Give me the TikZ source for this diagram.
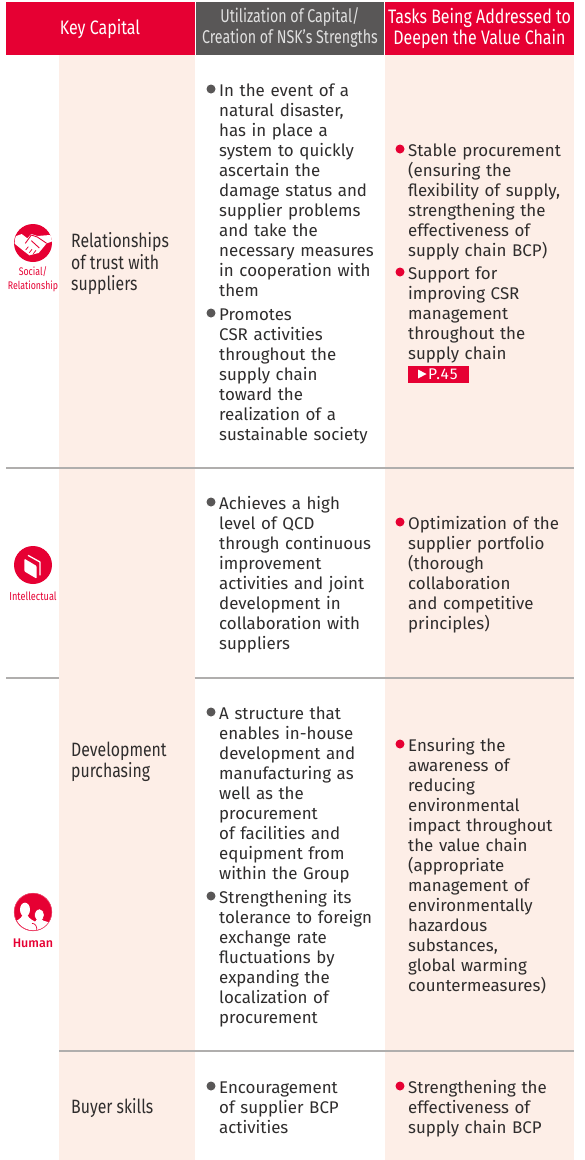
\documentclass[tikz,border=0pt]{standalone}
\usepackage{fontspec}
\setmainfont{Fira Sans}[Scale=1]
\newfontfamily\headfont{Fira Sans}[FakeStretch=0.82]
\newfontfamily\graheadfont{Fira Sans}[FakeStretch=0.77]
\newfontfamily\smallfont{Fira Sans}[FakeStretch=0.8]
\newfontfamily\tagfont{Fira Sans}[LetterSpace=7]
\newfontfamily\medfont{Fira Sans Medium}
\definecolor{nskred}{HTML}{E60033}
\definecolor{nskgray}{HTML}{595757}
\definecolor{peach}{HTML}{FDEEE7}
\definecolor{rulegray}{HTML}{B0AEAD}
\definecolor{ink}{HTML}{2F2D2D}
\tikzset{
  x=1pt,y=-1pt,
  headbox/.style={anchor=center,inner sep=0pt,text=white,align=center,font=\headfont\fontsize{19.5}{21}\selectfont},
  grayhead/.style={anchor=center,inner sep=0pt,text=white!88!black,align=center,font=\graheadfont\fontsize{18.5}{21}\selectfont},
  body/.style={anchor=north west,inner sep=0pt,text=ink,align=left,font=\fontsize{16.9}{20}\selectfont,text width=170pt},
  capital/.style={anchor=west,inner sep=0pt,text=ink,align=left,font=\headfont\fontsize{19.3}{21.5}\selectfont},
  iconlabel/.style={anchor=center,inner sep=0pt,text=nskred,align=center,font=\smallfont\fontsize{11.5}{14}\selectfont},
  bulletgray/.style={circle,fill=nskgray,inner sep=0pt,minimum size=9pt},
  bulletred/.style={circle,fill=nskred,inner sep=0pt,minimum size=9pt},
}
\begin{document}
\begin{tikzpicture}
\useasboundingbox (0,0) rectangle (585,1160);
\fill[white] (0,0) rectangle (585,1160);
% backgrounds
\fill[peach] (59,55) rectangle (194.5,1160);
\fill[peach] (385,55) rectangle (574,1160);
% header
\fill[nskred] (6,2) rectangle (194.5,54.5);
\fill[nskgray] (196,2) rectangle (383.5,54.5);
\fill[nskred] (385,2) rectangle (574,54.5);
\node[headbox] (h1) at (100,29) {Key Capital};
\node[grayhead] (h2) at (290,28) {Utilization of Capital/\\Creation of NSK’s Strengths};
\node[headbox] (h3) at (479.5,28) {Tasks Being Addressed to\\Deepen the Value Chain};
% rules
\draw[rulegray,line width=1.2pt] (6,468) -- (574,468);
\draw[rulegray,line width=1.2pt] (6,678) -- (59,678);
\draw[rulegray,line width=1.2pt] (194.5,678) -- (574,678);
\draw[rulegray,line width=1.2pt] (59,1051) -- (574,1051);
% col 1
\node[capital] (c1) at (71,264) {Relationships\\of trust with\\suppliers};
\node[capital] (c2) at (71,762) {Development\\purchasing};
\node[capital] (c3) at (71,1108.5) {Buyer skills};
% handshake icon (drawn in a 3x crop frame)
\fill[nskred] (33,243) circle (19);
\begin{scope}[shift={(10,220)},x=0.3333pt,y=-0.3333pt]
\clip (70,68) circle (56);
\fill[white] (8,52) -- (35,42) -- (52,55) -- (64,42) -- (82,48) -- (132,44) -- (133,62) -- (110,70) -- (86,99) -- (70,103) -- (58,106) -- (40,92) -- (10,68) -- cycle;
\draw[nskred,line width=0.9pt,line join=round] (46,70) -- (64,45) -- (82,51) -- (110,70);
\draw[nskred,line width=0.9pt,line join=round] (64,62) -- (88,84);
\draw[nskred,line width=0.7pt] (58,98) -- (66,88) (70,101) -- (78,91) (47,90) -- (55,80);
\end{scope}
\node[iconlabel,font=\smallfont\fontsize{11}{14}\selectfont] (l1) at (33,279) {Social/\\Relationship};
% book icon
\fill[nskred] (33,565) circle (19);
\begin{scope}[shift={(10,542)},x=0.3333pt,y=-0.3333pt]
\fill[white,rounded corners=1pt] (43,50) -- (80,72) -- (80,110) -- (43,88) -- cycle;
\draw[white,line width=1.3pt,line join=round] (54,40) -- (90,60) -- (90,100);
\end{scope}
\node[iconlabel] (l2) at (33,596) {Intellectual};
% human icon
\fill[nskred] (33,912) circle (19);
\begin{scope}[shift={(10,889)},x=0.3333pt,y=-0.3333pt]
\clip (70,68) circle (56);
\fill[white] (45,62) ellipse (15 and 21);
\fill[white] (8,126) -- (10,102) .. controls (18,94) and (32,92) .. (38,78) -- (52,78) .. controls (58,92) and (72,94) .. (80,102) -- (82,126) -- cycle;
\fill[white,draw=nskred,line width=0.6pt] (88,78) ellipse (14 and 18);
\fill[white] (74,126) -- (66,104) .. controls (72,98) and (80,97) .. (82,90) -- (94,90) .. controls (98,98) and (118,98) .. (130,104) -- (130,126) -- cycle;
\fill[white] (88,78) ellipse (13 and 17);
\draw[nskred,line width=0.7pt] (66,103) .. controls (76,104) and (82,110) .. (80,128);
\end{scope}
\draw[nskred!70,line width=0.5pt] (33,912) circle (18.8);
\node[iconlabel,font=\medfont\fontsize{12.5}{14}\selectfont] (l3) at (33,943) {Human};
% col 2
\node[bulletgray] (b1) at (211,89) {};
\node[body] (t1) at (219,84) {In the event of a\\natural disaster,\\has in place a\\system to quickly\\ascertain the\\damage status and\\supplier problems\\and take the\\necessary measures\\in cooperation with\\them};
\node[bulletgray] (b2) at (211,313) {};
\node[body] (t2) at (219,309) {Promotes\\CSR activities\\throughout the\\supply chain\\toward the\\realization of a\\sustainable society};
\node[bulletgray] (b3) at (211,502) {};
\node[body] (t3) at (219,496) {Achieves a high\\level of QCD\\through continuous\\improvement\\activities and joint\\development in\\collaboration with\\suppliers};
\node[bulletgray] (b4) at (211,712) {};
\node[body] (t4) at (219,707) {A structure that\\enables in-house\\development and\\manufacturing as\\well as the\\procurement\\of facilities and\\equipment from\\within the Group};
\node[bulletgray] (b5) at (211,896) {};
\node[body] (t5) at (219,890) {Strengthening its\\tolerance to foreign\\exchange rate\\fluctuations by\\expanding the\\localization of\\procurement};
\node[bulletgray] (b6) at (211,1086) {};
\node[body] (t6) at (219,1082) {Encouragement\\of supplier BCP\\activities};
% col 3
\node[bulletred] (r1) at (400,149) {};
\node[body] (u1) at (408,144) {Stable procurement\\(ensuring the\\flexibility of supply,\\strengthening the\\effectiveness of\\supply chain BCP)};
\node[bulletred] (r2) at (400,272) {};
\node[body] (u2) at (408,267) {Support for\\improving CSR\\management\\throughout the\\supply chain};
\fill[nskred] (407.5,365.5) rectangle (468.5,382.5);
\fill[white] (418,369.5) -- (426.5,374) -- (418,378.5) -- cycle;
\node[anchor=west,inner sep=0pt,text=white,font=\tagfont\fontsize{15.5}{17}\selectfont] (p45) at (428,374) {P.45};
\node[bulletred] (r3) at (400,522) {};
\node[body] (u3) at (408,516) {Optimization of the\\supplier portfolio\\(thorough\\collaboration\\and competitive\\principles)};
\node[bulletred] (r4) at (400,744) {};
\node[body] (u4) at (408,738) {Ensuring the\\awareness of\\reducing\\environmental\\impact throughout\\the value chain\\(appropriate\\management of\\environmentally\\hazardous\\substances,\\global warming\\countermeasures)};
\node[bulletred] (r5) at (400,1086) {};
\node[body] (u5) at (408,1080) {Strengthening the\\effectiveness of\\supply chain BCP};
\end{tikzpicture}
\end{document}
